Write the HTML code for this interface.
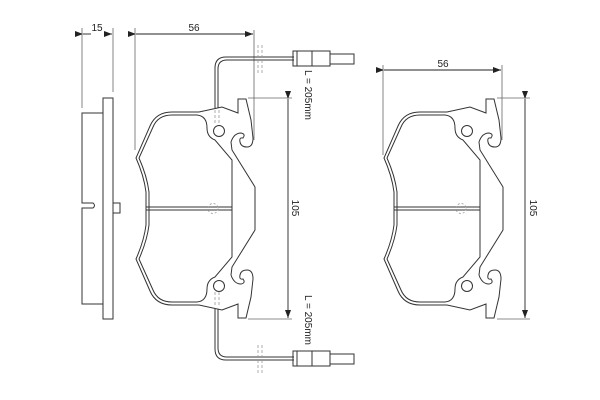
<!DOCTYPE html>
<html><head><meta charset="utf-8"><style>
html,body{margin:0;padding:0;background:#fff;width:600px;height:400px;overflow:hidden}
svg text{font-family:"Liberation Sans",sans-serif;font-size:10px;fill:#222}
</style></head><body>
<svg width="600" height="400" viewBox="0 0 600 400" xmlns="http://www.w3.org/2000/svg">
<defs>
<marker id="a" markerWidth="8" markerHeight="6" refX="8" refY="3" orient="auto" markerUnits="userSpaceOnUse"><path d="M0,0 L8,3 L0,6 z" fill="#222"/></marker>
<g id="half" fill="none" stroke="#333" stroke-width="1">
<path d="M394,209 L394,192 Q392,176 384,158 L398,126 Q404,112 420,112 L447,112 L470,107 L486,113 L486,99 L494,99 L499,120 L501,138 Q501,147 495,147 Q489,147 488,142 Q487,137 491,138 Q494,134 489,133 Q482,133 479,142 L480,150 L503,187 L503,209"/>
<path d="M397,209 L397,192 Q395,176 387,158 L401,127 Q406,115 420,115 L445,115 Q455,116 455,128 Q455,137 463,140 L480,160 Q480,190 480,209"/>
<circle cx="467" cy="131" r="5.5"/>
</g>
<g id="pad">
<use href="#half"/>
<use href="#half" transform="translate(0,417) scale(1,-1)"/>
<line x1="394" y1="207" x2="480" y2="207" stroke="#333"/>
<line x1="394" y1="210" x2="480" y2="210" stroke="#333"/>
<circle cx="461" cy="208.5" r="5" fill="none" stroke="#999" stroke-dasharray="2,2" stroke-width="0.8"/>
</g>
</defs>
<g stroke="#666" stroke-width="0.8" fill="none">
<!-- side view extension/dim -->
<line x1="82" y1="28" x2="82" y2="108"/><line x1="113" y1="28" x2="113" y2="92"/>
<line x1="135" y1="28" x2="135" y2="150"/><line x1="254" y1="30" x2="254" y2="140"/>
<line x1="383" y1="65" x2="383" y2="155"/><line x1="502" y1="65" x2="502" y2="140"/>
<line x1="248" y1="98" x2="292" y2="98"/><line x1="248" y1="319" x2="292" y2="319"/>
<line x1="497" y1="98" x2="530" y2="98"/><line x1="497" y1="319" x2="530" y2="319"/>
</g>
<g stroke="#222" stroke-width="0.9">
<line x1="83" y1="34" x2="91" y2="34" marker-start="url(#a)"/>
<line x1="104" y1="34" x2="112" y2="34" marker-end="url(#a)"/>
<line x1="136" y1="34" x2="253" y2="34" marker-start="url(#a)" marker-end="url(#a)"/>
<line x1="384" y1="70" x2="501" y2="70" marker-start="url(#a)" marker-end="url(#a)"/>
<line x1="288" y1="99" x2="288" y2="318" marker-start="url(#a)" marker-end="url(#a)"/>
<line x1="525" y1="99" x2="525" y2="318" marker-start="url(#a)" marker-end="url(#a)"/>
</g>
<text x="97" y="31" text-anchor="middle">15</text>
<text x="194" y="31" text-anchor="middle">56</text>
<text x="443" y="67" text-anchor="middle">56</text>
<text transform="translate(292,208) rotate(90)" text-anchor="middle">105</text>
<text transform="translate(530,208) rotate(90)" text-anchor="middle">105</text>
<text transform="translate(305,95) rotate(90)" text-anchor="middle">L = 205mm</text>
<text transform="translate(305,320) rotate(90)" text-anchor="middle">L = 205mm</text>
<!-- side view -->
<g fill="none" stroke="#333" stroke-width="1">
<rect x="103" y="98" width="10" height="221"/>
<path d="M103,113 L82,113 L82,203 L93,203 Q96,205.5 93,208 L82,208 L82,304 L103,304"/>
<rect x="113" y="203" width="7" height="10"/>
</g>
<use href="#pad"/>
<use href="#pad" transform="translate(-248,0)"/>
<!-- wires -->
<g fill="none" stroke="#333" stroke-width="1">
<path d="M215,108 L215,68 Q215,57 226,57 L294,57"/><path d="M218,108 L218,69 Q218,60 227,60 L294,60"/>
<path d="M215,309 L215,349 Q215,360 226,360 L294,360"/><path d="M218,309 L218,348 Q218,357 227,357 L294,357"/>
<rect x="293" y="51" width="37" height="15"/><line x1="297" y1="51" x2="297" y2="66"/><line x1="312" y1="51" x2="312" y2="66"/>
<rect x="330" y="54" width="24" height="10"/>
<rect x="293" y="351" width="37" height="15"/><line x1="297" y1="351" x2="297" y2="366"/><line x1="312" y1="351" x2="312" y2="366"/>
<rect x="330" y="354" width="24" height="10"/>
</g>
<g stroke="#999" stroke-width="0.8" stroke-dasharray="3,2">
<line x1="258" y1="45" x2="258" y2="73"/><line x1="262" y1="45" x2="262" y2="73"/>
<line x1="258" y1="345" x2="258" y2="373"/><line x1="262" y1="345" x2="262" y2="373"/>
<line x1="215" y1="110" x2="215" y2="125"/><line x1="219" y1="110" x2="219" y2="125"/>
<line x1="215" y1="292" x2="215" y2="307"/><line x1="219" y1="292" x2="219" y2="307"/>
</g>
</svg>
</body></html>
